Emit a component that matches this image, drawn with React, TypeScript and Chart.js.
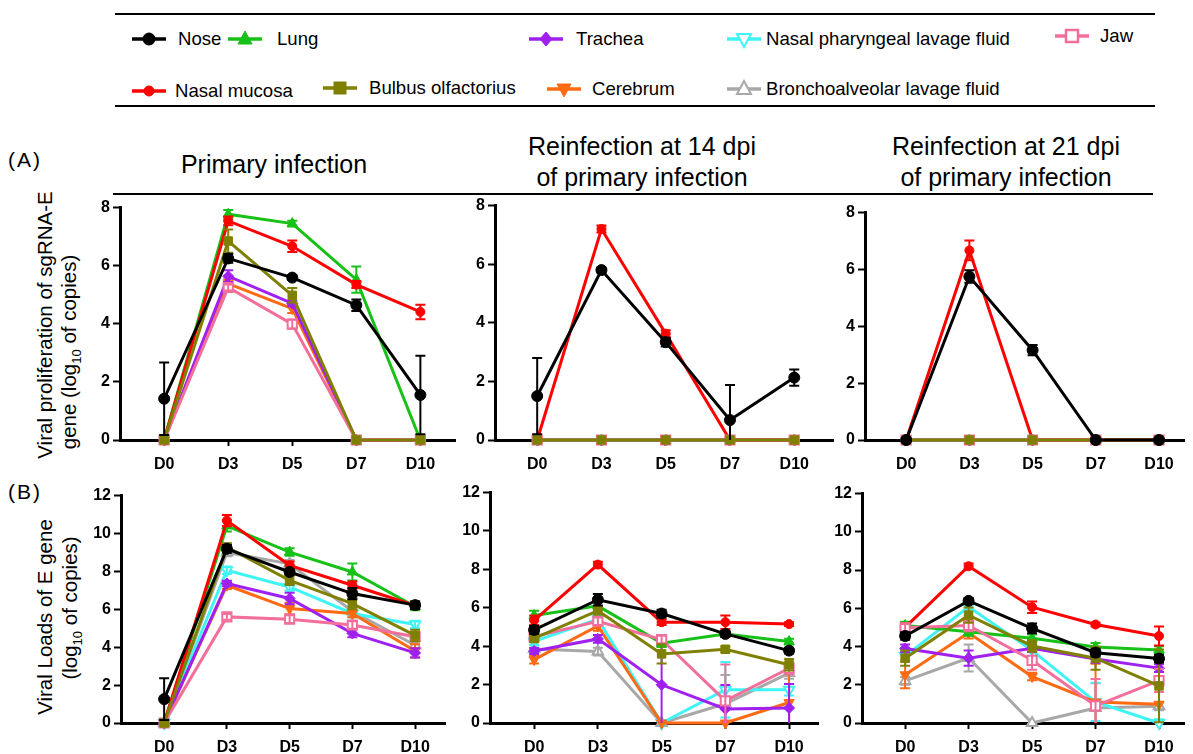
import React, { useEffect, useRef } from "react";
import { Chart, registerables } from "chart.js";
Chart.register(...registerables);

// ---------------- DATA ----------------
const days = ["D0", "D3", "D5", "D7", "D10"];
const seriesNames = [
  "Nose",
  "Nasal mucosa",
  "Lung",
  "Bulbus olfactorius",
  "Trachea",
  "Cerebrum",
  "Nasal pharyngeal lavage fluid",
  "Bronchoalveolar lavage fluid",
  "Jaw",
];
const yTicksA = [0, 2, 4, 6, 8];
const yTicksB = [0, 2, 4, 6, 8, 10, 12];

// (A) sgRNA-E, primary infection
const sgPrimaryValues = [
  [1.42, 6.25, 5.59, 4.64, 1.55],
  [0, 7.54, 6.67, 5.35, 4.41],
  [0, 7.77, 7.45, 5.52, 0],
  [0, 6.85, 4.98, 0, 0],
  [0, 5.64, 4.7, 0, 0],
  [0, 5.38, 4.52, 0, 0],
  null,
  null,
  [0, 5.25, 3.99, 0, 0],
];
const sgPrimaryErrors = [
  [1.25, 0.15, 0.08, 0.2, 1.35],
  [0, 0.15, 0.2, 0.12, 0.25],
  [0, 0.15, 0.1, 0.45, 0],
  [0, 0.4, 0.25, 0, 0],
  [0, 0.2, 0.1, 0, 0],
  [0, 0.15, 0.15, 0, 0],
  null,
  null,
  [0, 0.1, 0.15, 0, 0],
];
// (A) sgRNA-E, reinfection at 14 dpi
const sgRe14Values = [
  [1.5, 5.8, 3.34, 0.68, 2.13],
  [0, 7.2, 3.63, 0, 0],
  [0, 0, 0, 0, 0],
  [0, 0, 0, 0, 0],
  [0, 0, 0, 0, 0],
  [0, 0, 0, 0, 0],
  null,
  null,
  [0, 0, 0, 0, 0],
];
const sgRe14Errors = [
  [1.3, 0.08, 0.15, 1.2, 0.28],
  [0, 0.12, 0.12, 0, 0],
  [0, 0, 0, 0, 0],
  [0, 0, 0, 0, 0],
  [0, 0, 0, 0, 0],
  [0, 0, 0, 0, 0],
  null,
  null,
  [0, 0, 0, 0, 0],
];
// (A) sgRNA-E, reinfection at 21 dpi
const sgRe21Values = [
  [0, 5.75, 3.16, 0, 0],
  [0, 6.67, 0, 0, 0],
  [0, 0, 0, 0, 0],
  [0, 0, 0, 0, 0],
  [0, 0, 0, 0, 0],
  [0, 0, 0, 0, 0],
  null,
  null,
  [0, 0, 0, 0, 0],
];
const sgRe21Errors = [
  [0, 0.22, 0.18, 0, 0],
  [0, 0.35, 0, 0, 0],
  [0, 0, 0, 0, 0],
  [0, 0, 0, 0, 0],
  [0, 0, 0, 0, 0],
  [0, 0, 0, 0, 0],
  null,
  null,
  [0, 0, 0, 0, 0],
];
// (B) E gene, primary infection
const ePrimaryValues = [
  [1.26, 9.19, 7.97, 6.83, 6.22],
  [0, 10.68, 8.32, 7.27, 6.2],
  [0, 10.4, 9.02, 7.97, 6.15],
  [0, 9.28, 7.53, 6.3, 4.62],
  [0, 7.36, 6.57, 4.73, 3.7],
  [0, 7.27, 6.04, 5.78, 3.8],
  [0, 8.06, 7.18, 5.78, 5.2],
  [0, 9.0, 8.4, 5.9, 4.1],
  [0, 5.6, 5.48, 5.17, 4.55],
];
const ePrimaryErrors = [
  [1.1, 0.2, 0.15, 0.3, 0.2],
  [0, 0.3, 0.2, 0.2, 0.15],
  [0, 0.3, 0.2, 0.45, 0.2],
  [0, 0.2, 0.25, 0.3, 0.3],
  [0, 0.15, 0.3, 0.2, 0.25],
  [0, 0.2, 0.3, 0.2, 0.35],
  [0, 0.2, 0.2, 0.2, 0.2],
  [0, 0.2, 0.2, 0.2, 0.2],
  [0, 0.15, 0.2, 0.2, 0.2],
];
// (B) E gene, reinfection at 14 dpi
const eRe14Values = [
  [4.85, 6.42, 5.7, 4.64, 3.77],
  [5.35, 8.25, 5.25, 5.25, 5.15],
  [5.6, 6.1, 4.16, 4.64, 4.24],
  [4.41, 5.85, 3.6, 3.84, 3.03],
  [3.75, 4.38, 1.99, 0.73, 0.78],
  [3.3, 5.05, 0, 0, 1.07],
  [4.25, 5.4, 0, 1.73, 1.73],
  [3.85, 3.72, 0, 1.0, 2.6],
  [4.5, 5.3, 4.35, 1.15, 2.85],
];
const eRe14Errors = [
  [0.2, 0.3, 0.2, 0.15, 0.15],
  [0.25, 0.15, 0.15, 0.35, 0.1],
  [0.25, 0.2, 0.2, 0.15, 0.15],
  [0.2, 0.2, 0.5, 0.15, 0.3],
  [0.15, 0.2, 2.0, 1.25, 1.25],
  [0.2, 0.25, 0, 0, 1.9],
  [0.2, 0.2, 0, 1.45, 0.3],
  [0.2, 0.2, 0, 1.5, 0.3],
  [0.2, 0.2, 0.2, 1.9, 0.3],
];
// (B) E gene, reinfection at 21 dpi
const eRe21Values = [
  [4.55, 6.39, 4.95, 3.68, 3.37],
  [5.0, 8.2, 6.06, 5.15, 4.55],
  [5.1, 4.77, 4.43, 3.98, 3.82],
  [3.39, 5.64, 4.03, 3.39, 1.94],
  [3.9, 3.39, 3.91, 3.35, 2.87],
  [2.52, 4.72, 2.43, 1.1, 0.98],
  [3.5, 6.08, 3.8, 1.1, 0],
  [2.2, 3.4, 0, 0.78, 0.87],
  [4.98, 5.1, 3.28, 0.9, 2.22],
];
const eRe21Errors = [
  [0.2, 0.15, 0.25, 0.2, 0.2],
  [0.2, 0.15, 0.3, 0.1, 0.5],
  [0.2, 0.2, 0.2, 0.2, 0.2],
  [0.4, 0.4, 0.3, 0.6, 1.9],
  [0.2, 0.4, 0.2, 0.2, 0.2],
  [0.7, 0.3, 0.2, 2.0, 1.2],
  [0.2, 0.2, 0.3, 1.0, 0.2],
  [0.2, 0.7, 0, 1.3, 0.2],
  [0.2, 0.3, 0.5, 1.4, 0.6],
];

// ---------------- STYLES ----------------
type Style = { color: string; shape: string; rotation: number; radius: number; hollow: boolean; z: number };
// z: lower value is drawn on top
const seriesStyles: Style[] = [
  { color: "#000000", shape: "circle", rotation: 0, radius: 5.5, hollow: false, z: 0 },
  { color: "#ff0000", shape: "circle", rotation: 0, radius: 4.5, hollow: false, z: 3 },
  { color: "#17c117", shape: "triangle", rotation: 0, radius: 6, hollow: false, z: 4 },
  { color: "#808000", shape: "rect", rotation: 0, radius: 6, hollow: false, z: 1 },
  { color: "#a020f0", shape: "rectRot", rotation: 0, radius: 5.5, hollow: false, z: 5 },
  { color: "#ff6a13", shape: "triangle", rotation: 180, radius: 6, hollow: false, z: 6 },
  { color: "#3ff4f4", shape: "triangle", rotation: 180, radius: 6, hollow: true, z: 7 },
  { color: "#a8a8a8", shape: "triangle", rotation: 0, radius: 6, hollow: true, z: 8 },
  { color: "#f26f9c", shape: "rect", rotation: 0, radius: 6.5, hollow: true, z: 2 },
];

const FONT = '"Liberation Sans", Arial, sans-serif';

const errorBarPlugin = {
  id: "errorBars",
  afterDatasetDraw(chart: any, args: any) {
    const ds = chart.data.datasets[args.index];
    const errs: number[] | undefined = ds.errors;
    if (!errs) return;
    const ctx = chart.ctx;
    const xs = chart.scales.x;
    const ys = chart.scales.y;
    ctx.save();
    ctx.strokeStyle = ds.borderColor;
    ctx.lineWidth = 2;
    ds.data.forEach((p: any, i: number) => {
      const e = errs[i];
      if (!e) return;
      const px = xs.getPixelForValue(p.x);
      const top = ys.getPixelForValue(p.y + e);
      const lowV = Math.max(0, p.y - e);
      const bot = ys.getPixelForValue(lowV);
      ctx.beginPath();
      ctx.moveTo(px, top);
      ctx.lineTo(px, bot);
      ctx.moveTo(px - 5, top);
      ctx.lineTo(px + 5, top);
      if (p.y - e > 0) {
        ctx.moveTo(px - 5, bot);
        ctx.lineTo(px + 5, bot);
      }
      ctx.stroke();
    });
    ctx.restore();
  },
};

type PanelSpec = {
  L: number; R: number; T: number; B: number; x0: number; step: number;
  yTicks: number[]; values: (number[] | null)[]; errors: (number[] | null)[];
};

const YW = 44;
const XH = 40;
const PT = 12;
const PR = 2;

function Panel({ spec }: { spec: PanelSpec }) {
  const ref = useRef<HTMLCanvasElement>(null);
  const left = spec.L - YW;
  const top = spec.T - PT;
  const width = spec.R - spec.L + YW + PR;
  const height = spec.B - spec.T + PT + XH;
  useEffect(() => {
    const xMin = -(spec.x0 - spec.L) / spec.step;
    const xMax = (spec.R - spec.x0) / spec.step;
    const yMax = spec.yTicks[spec.yTicks.length - 1];
    const datasets: any[] = [];
    spec.values.forEach((vals, i) => {
      if (!vals) return;
      const st = seriesStyles[i];
      datasets.push({
        label: seriesNames[i],
        data: vals.map((v, j) => ({ x: j, y: v })),
        errors: spec.errors[i],
        order: st.z,
        borderColor: st.color,
        backgroundColor: st.color,
        borderWidth: 3,
        pointStyle: st.shape,
        pointRotation: st.rotation,
        pointRadius: st.radius,
        pointBackgroundColor: st.hollow ? "#ffffff" : st.color,
        pointBorderColor: st.color,
        pointBorderWidth: st.hollow ? 2 : 1,
        tension: 0,
        clip: false,
      });
    });
    const tickFont = { family: FONT, size: 16, weight: "bold" as const };
    const chart = new Chart(ref.current!, {
      type: "line",
      data: { datasets },
      plugins: [errorBarPlugin],
      options: {
        animation: false,
        responsive: false,
        events: [],
        layout: { padding: { top: PT, right: PR, left: 0, bottom: 0 } },
        plugins: { legend: { display: false }, tooltip: { enabled: false } },
        scales: {
          x: {
            type: "linear",
            min: xMin,
            max: xMax,
            afterBuildTicks: (ax: any) => {
              ax.ticks = days.map((_, i) => ({ value: i }));
            },
            afterFit: (ax: any) => {
              ax.height = XH;
            },
            ticks: {
              callback: (v: any) => days[v as number] ?? "",
              font: tickFont,
              color: "#000",
              padding: 9,
              maxRotation: 0,
              autoSkip: false,
            },
            grid: { drawOnChartArea: false, drawTicks: true, tickLength: 6, tickWidth: 2, color: "#000" },
            border: { display: true, width: 3, color: "#000" },
          },
          y: {
            type: "linear",
            min: 0,
            max: yMax,
            afterBuildTicks: (ax: any) => {
              ax.ticks = spec.yTicks.map((v) => ({ value: v }));
            },
            afterFit: (ax: any) => {
              ax.width = YW;
            },
            ticks: { font: tickFont, color: "#000", padding: 3 },
            grid: { drawOnChartArea: false, drawTicks: true, tickLength: 7, tickWidth: 2, color: "#000" },
            border: { display: true, width: 3, color: "#000" },
          },
        },
      } as any,
    });
    return () => chart.destroy();
  }, []);
  return (
    <canvas
      ref={ref}
      width={width}
      height={height}
      style={{ position: "absolute", left, top, width, height }}
    />
  );
}

const panels: PanelSpec[] = [
  { L: 120, R: 462, T: 207, B: 440, x0: 165, step: 65.3, yTicks: yTicksA, values: sgPrimaryValues, errors: sgPrimaryErrors },
  { L: 495, R: 840, T: 205, B: 440, x0: 538, step: 65.5, yTicks: yTicksA, values: sgRe14Values, errors: sgRe14Errors },
  { L: 865, R: 1191, T: 212, B: 440, x0: 907, step: 64.5, yTicks: yTicksA, values: sgRe21Values, errors: sgRe21Errors },
  { L: 121, R: 452, T: 495, B: 723, x0: 165, step: 64, yTicks: yTicksB, values: ePrimaryValues, errors: ePrimaryErrors },
  { L: 490, R: 825, T: 492, B: 723, x0: 535, step: 65, yTicks: yTicksB, values: eRe14Values, errors: eRe14Errors },
  { L: 862, R: 1191, T: 493, B: 723, x0: 906, step: 64.75, yTicks: yTicksB, values: eRe21Values, errors: eRe21Errors },
];

function Marker({ st }: { st: Style }) {
  const c = st.color;
  const fill = st.hollow ? "#ffffff" : c;
  let shape: React.ReactNode = null;
  const cx = 18, cy = 10;
  if (st.shape === "circle") shape = <circle cx={cx} cy={cy} r={st.radius + 0.5} fill={fill} stroke={c} />;
  else if (st.shape === "rect")
    shape = <rect x={cx - 6} y={cy - 6} width={12} height={12} fill={fill} stroke={c} strokeWidth={st.hollow ? 2.5 : 1} />;
  else if (st.shape === "rectRot")
    shape = <polygon points={`${cx},${cy - 7} ${cx + 6},${cy} ${cx},${cy + 7} ${cx - 6},${cy}`} fill={fill} stroke={c} />;
  else if (st.shape === "triangle") {
    const pts = st.rotation === 180
      ? `${cx - 7},${cy - 5} ${cx + 7},${cy - 5} ${cx},${cy + 8}`
      : `${cx - 7},${cy + 5} ${cx + 7},${cy + 5} ${cx},${cy - 8}`;
    shape = <polygon points={pts} fill={fill} stroke={c} strokeWidth={st.hollow ? 2 : 1} />;
  }
  return (
    <svg width={36} height={20} style={{ position: "absolute", left: 0, top: 0 }}>
      <line x1={1} y1={cy} x2={35} y2={cy} stroke={c} strokeWidth={3.5} />
      {shape}
    </svg>
  );
}

const legendPos = [
  { mx: 149, tx: 178, y: 39 },
  { mx: 149, tx: 175, y: 91 },
  { mx: 245, tx: 277, y: 39 },
  { mx: 340, tx: 369, y: 88 },
  { mx: 546, tx: 576, y: 39 },
  { mx: 564, tx: 592, y: 89 },
  { mx: 744, tx: 766, y: 39 },
  { mx: 744, tx: 766, y: 89 },
  { mx: 1072, tx: 1100, y: 36 },
];

function RotText({ cx, cy, children }: { cx: number; cy: number; children: React.ReactNode }) {
  return (
    <div
      style={{
        position: "absolute",
        left: cx,
        top: cy,
        transform: "translate(-50%, -50%) rotate(-90deg)",
        whiteSpace: "nowrap",
        fontFamily: FONT,
        fontSize: 20.5,
        color: "#000",
        lineHeight: 1,
      }}
    >
      {children}
    </div>
  );
}

function Label({ x, y, size, children, center }: any) {
  return (
    <div
      style={{
        position: "absolute",
        left: x,
        top: y,
        transform: center ? "translate(-50%, -50%)" : "translate(0, -50%)",
        whiteSpace: "nowrap",
        fontFamily: FONT,
        fontSize: size,
        color: "#000",
        lineHeight: 1.25,
        textAlign: "center",
      }}
    >
      {children}
    </div>
  );
}

export default function App() {
  return (
    <div
      style={{
        position: "fixed",
        left: 0,
        top: 0,
        width: 1193,
        height: 754,
        background: "#fff",
        overflow: "hidden",
      }}
    >
      {/* legend rules */}
      <div style={{ position: "absolute", left: 115, top: 13, width: 1040, height: 2, background: "#000" }} />
      <div style={{ position: "absolute", left: 115, top: 105, width: 1040, height: 2, background: "#000" }} />
      {seriesNames.map((n, i) => (
        <React.Fragment key={n}>
          <div style={{ position: "absolute", left: legendPos[i].mx - 18, top: legendPos[i].y - 10, width: 36, height: 20 }}>
            <Marker st={seriesStyles[i]} />
          </div>
          <Label x={legendPos[i].tx} y={legendPos[i].y} size={18.6}>
            {n}
          </Label>
        </React.Fragment>
      ))}
      {/* titles */}
      <Label x={8} y={160} size={21}>
        <span style={{ letterSpacing: 2 }}>(A)</span>
      </Label>
      <Label x={8} y={492} size={21}>
        <span style={{ letterSpacing: 2 }}>(B)</span>
      </Label>
      <Label x={274} y={165} size={25} center>
        Primary infection
      </Label>
      <Label x={642} y={162} size={25} center>
        Reinfection at 14 dpi
        <br />
        of primary infection
      </Label>
      <Label x={1006} y={162} size={25} center>
        Reinfection at 21 dpi
        <br />
        of primary infection
      </Label>
      <div style={{ position: "absolute", left: 113, top: 193, width: 1040, height: 2, background: "#000" }} />
      {/* y axis titles */}
      <RotText cx={45} cy={325}>Viral proliferation of sgRNA-E</RotText>
      <RotText cx={71} cy={352}>
        gene (log<sub style={{ fontSize: 13 }}>10</sub> of copies)
      </RotText>
      <RotText cx={45} cy={617}>Viral Loads of E gene</RotText>
      <RotText cx={72} cy={608}>
        (log<sub style={{ fontSize: 13 }}>10</sub> of copies)
      </RotText>
      {panels.map((p, i) => (
        <Panel key={i} spec={p} />
      ))}
    </div>
  );
}
